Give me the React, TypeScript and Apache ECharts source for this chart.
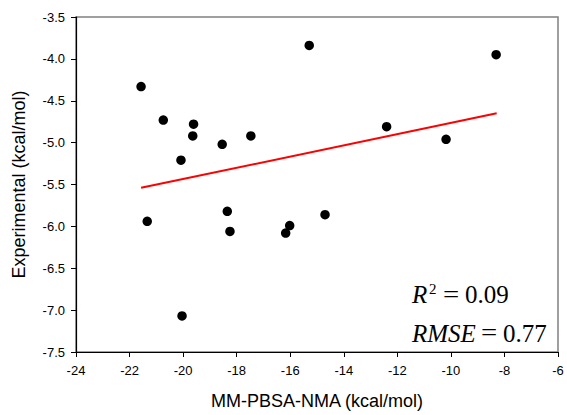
import React, { useEffect, useRef } from "react";
import * as echarts from "echarts";

const xValues = [-21.57, -20.74, -19.61, -19.64, -20.08, -18.54, -17.47, -15.29, -8.31, -12.4, -10.18, -21.34, -18.35, -18.25, -16.17, -16.02, -20.04, -14.7];
const yValues = [-4.33, -4.73, -4.78, -4.92, -5.21, -5.02, -4.92, -3.84, -3.95, -4.81, -4.96, -5.94, -5.82, -6.06, -6.08, -5.99, -7.07, -5.86];
const fitX = [-21.57, -8.29];
const fitY = [-5.54, -4.65];
const xName = "MM-PBSA-NMA (kcal/mol)";
const yName = "Experimental (kcal/mol)";
const r2Text = "0.09";
const rmseText = "0.77";

export default function App() {
  const ref = useRef<HTMLDivElement>(null);
  useEffect(() => {
    const chart = echarts.init(ref.current!, null, { renderer: "svg" });
    const serif = "Liberation Serif";
    const t = (text: string, x: number, y: number, size: number, italic: boolean, scaleX = 1) => ({
      type: "text",
      x,
      y,
      scaleX,
      style: {
        text,
        fontSize: size,
        fontFamily: serif,
        fontStyle: italic ? "italic" : "normal",
        fill: "#000",
        verticalAlign: "middle",
        align: "left",
      },
    });
    chart.setOption({
      animation: false,
      backgroundColor: "#fff",
      textStyle: { fontFamily: "'Liberation Sans', Arial, sans-serif" },
      grid: { left: 76, right: 9, top: 17, bottom: 62, show: true, borderColor: "#808080", borderWidth: 1.5 },
      xAxis: {
        type: "value",
        min: -24,
        max: -6,
        interval: 2,
        name: xName,
        nameLocation: "middle",
        nameGap: 40,
        nameTextStyle: { fontSize: 18, color: "#000" },
        axisLine: { show: true, onZero: false, lineStyle: { color: "#000", width: 1.2 } },
        axisTick: { show: true, inside: false, length: 5, lineStyle: { color: "#000" } },
        axisLabel: { fontSize: 13, color: "#000", margin: 12 },
        splitLine: { show: false },
      },
      yAxis: {
        type: "value",
        min: -7.5,
        max: -3.5,
        interval: 0.5,
        name: yName,
        nameLocation: "middle",
        nameGap: 48,
        nameTextStyle: { fontSize: 18, color: "#000" },
        axisLine: { show: true, onZero: false, lineStyle: { color: "#000", width: 1.2 } },
        axisTick: { show: true, inside: false, length: 5, lineStyle: { color: "#000" } },
        axisLabel: { fontSize: 13, color: "#000", margin: 11, formatter: (v: number) => v.toFixed(1) },
        splitLine: { show: false },
      },
      series: [
        {
          type: "line",
          data: fitX.map((x, i) => [x, fitY[i]]),
          showSymbol: false,
          lineStyle: { color: "#ff0000", width: 2 },
          z: 2,
        },
        {
          type: "scatter",
          data: xValues.map((x, i) => [x, yValues[i]]),
          symbol: "circle",
          symbolSize: 9.5,
          itemStyle: { color: "#000", opacity: 1 },
          z: 3,
        },
      ],
      graphic: [
        t("R", 412, 294.5, 25, true),
        t("2", 429, 289, 15, false),
        t("=", 443, 294.5, 25, false, 1.15),
        t(r2Text, 465, 294.5, 25, false),
        t("RMSE", 412, 333, 25, true),
        t("=", 481, 333, 25, false, 1.15),
        t(rmseText, 503, 333, 25, false),
      ],
    });
    return () => chart.dispose();
  }, []);
  return <div ref={ref} style={{ position: "fixed", left: 0, top: 0, width: 567, height: 415 }} />;
}
